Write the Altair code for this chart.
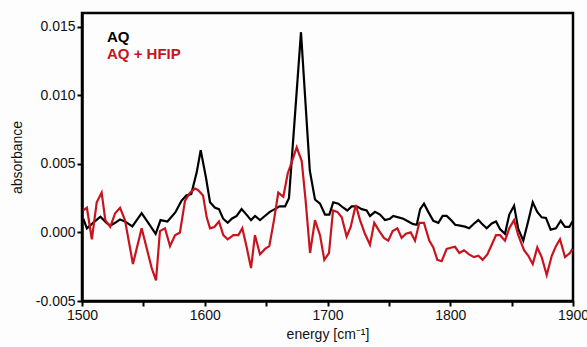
import altair as alt
import pandas as pd

# --- data -------------------------------------------------------------------
aq_wn = [1501, 1504, 1509, 1515, 1520, 1523, 1527, 1531, 1535, 1541, 1548.6, 1554,
         1560, 1564, 1569.6, 1576, 1581, 1585, 1589, 1593.5, 1596.7, 1601, 1604.3,
         1608.4, 1611.6, 1615, 1618.7, 1622, 1626, 1630, 1634, 1637.7, 1641, 1645,
         1649, 1653, 1657, 1661, 1665.4, 1668.6, 1678.4, 1685.6, 1689.8, 1693.9,
         1698, 1701.5, 1704.7, 1708.8, 1712.9, 1716.1, 1719.7, 1723.8, 1727.9,
         1731.9, 1734.6, 1738.7, 1742.8, 1746.8, 1750.9, 1753.6, 1757.7, 1761.8,
         1765.8, 1769.9, 1772.7, 1775.5, 1778.6, 1782.1, 1786.2, 1790.3, 1793.8,
         1797.1, 1801.2, 1804, 1808, 1812, 1815.4, 1818.8, 1822.9, 1826.2, 1829.7,
         1833.8, 1837.3, 1840.5, 1844.6, 1848.1, 1852, 1855.4, 1859.5, 1863.6,
         1867.2, 1870.9, 1874.5, 1878, 1881.8, 1886.1, 1890, 1893.5, 1897, 1899.5]
aq_abs = [0.0010, 0.0003, 0.0007, 0.00115, 0.0007, 0.0005, 0.0007, 0.00095, 0.0008,
          0.00044, 0.0014, 0.0007, -0.0001, 0.0009, 0.0008, 0.00146, 0.0023, 0.0027,
          0.0028, 0.0044, 0.0060, 0.0040, 0.0022, 0.0018, 0.0017, 0.0010, 0.0007,
          0.0010, 0.0012, 0.0017, 0.0013, 0.0009, 0.0012, 0.0009, 0.0012, 0.0015,
          0.0017, 0.0019, 0.0019, 0.0025, 0.0146, 0.0045, 0.0024, 0.0021, 0.0013,
          0.0013, 0.0022, 0.0021, 0.0018, 0.0016, 0.0019, 0.0019, 0.0017, 0.0016,
          0.0012, 0.0015, 0.0013, 0.0009, 0.0010, 0.0012, 0.0011, 0.0010, 0.0008,
          0.0006, 0.00056, 0.0017, 0.0021, 0.0015, 0.00085, 0.0007, 0.0012, 0.0012,
          0.00085, 0.00056, 0.0005, 0.00042, 0.0003, 0.0006, 0.0009, 0.0006, 0.0003,
          0.00066, 0.0008, 0.00025, -0.0001, 0.0013, 0.00195, 0.00025, -0.0006,
          0.00085, 0.0022, 0.0015, 0.0011, 0.00105, 0.0002, 0.0003, 0.00085, 0.0004,
          0.0004, 0.0008]

hfip_wn = [1501, 1504, 1508, 1512, 1516, 1519, 1523, 1527, 1531, 1535, 1541.5,
           1548.6, 1556.8, 1560.3, 1563.5, 1567.6, 1571.7, 1575.8, 1579.8, 1583.9,
           1588, 1592, 1594.5, 1598.6, 1601.6, 1604.3, 1607.8, 1611.6, 1615.1,
           1618.7, 1623.3, 1627.4, 1630.6, 1634.2, 1637.7, 1640.9, 1645, 1649.1,
           1652.6, 1656.4, 1659.9, 1664, 1667.6, 1670.8, 1674.9, 1679, 1682.2,
           1685.8, 1689.8, 1693.9, 1697.4, 1701.2, 1704.5, 1708, 1711.6, 1715.6,
           1718.9, 1723, 1726.5, 1730.5, 1734.6, 1738.1, 1742.2, 1746, 1749.5,
           1753.1, 1756.9, 1760.4, 1763.9, 1767.8, 1771.3, 1774.8, 1778.6, 1782.9,
           1786.2, 1789.5, 1793, 1797.1, 1801.2, 1803.9, 1807.4, 1811.2, 1815.3,
           1819.3, 1822.9, 1826.4, 1830.2, 1833.8, 1837.3, 1840.5, 1844.6, 1848.1,
           1852, 1855.4, 1860.1, 1863.6, 1867.2, 1870.9, 1874.5, 1878.6, 1882.7,
           1886.1, 1889.4, 1893.5, 1897.5, 1899.5]
hfip_abs = [0.0016, 0.0018, -0.0005, 0.0022, 0.0029, 0.0009, 0.0004, 0.0014, 0.0018,
            0.0009, -0.0023, 0.0003, -0.0026, -0.0035, 0.0001, 0.0003, -0.0010,
            -0.0002, 0.0, 0.0023, 0.0029, 0.0032, 0.0031, 0.0027, 0.0011, 0.0003,
            0.0004, 0.0008, -0.0002, -0.0005, -0.0002, -0.0002, 0.0003, -0.0011,
            -0.0026, -0.0002, -0.0016, -0.0012, -0.0010, 0.0009, 0.0029, 0.0026,
            0.0043, 0.0051, 0.0062, 0.0052, 0.0023, -0.0015, 0.0009, -0.0002,
            -0.0020, -0.0015, 0.0016, 0.0015, 0.0011, -0.0003, 0.0004, 0.0020,
            0.0009, -0.0001, -0.0009, 0.0007, 0.0001, -0.0004, -0.0006, 0.0001,
            0.0003, -0.0004, -0.0001, 0.0, -0.0006, 0.0007, 0.0007, -0.0006,
            -0.0011, -0.0020, -0.0021, -0.0012, -0.0011, -0.00105, -0.0015, -0.0013,
            -0.0016, -0.0018, -0.0017, -0.0020, -0.0016, -0.0009, -0.0002, -0.0002,
            -0.0006, 0.0003, 0.0009, -0.0002, -0.0013, -0.0017, -0.0023, -0.0011,
            -0.0018, -0.0031, -0.0017, -0.0010, -0.0005, -0.0018, -0.0015, -0.0012]

series_names = ["AQ", "AQ + HFIP"]
series_colors = ["#000000", "#c8141e"]
x_ticks = [1500, 1550, 1600, 1650, 1700, 1750, 1800, 1850, 1900]
y_ticks = [-0.005, 0.0, 0.005, 0.010, 0.015]

df = pd.concat([
    pd.DataFrame({"wn": aq_wn, "abs": aq_abs, "series": series_names[0]}),
    pd.DataFrame({"wn": hfip_wn, "abs": hfip_abs, "series": series_names[1]}),
])
legend_df = pd.DataFrame({"series": series_names, "row": [0, 1]})

FONT = "Liberation Sans"

x_scale = alt.Scale(domain=[1500, 1900], nice=False, zero=False)
y_scale = alt.Scale(domain=[-0.005, 0.016], nice=False, zero=False)
color_scale = alt.Scale(domain=series_names, range=series_colors)

lines = alt.Chart(df).mark_line(strokeWidth=2.2, clip=True, strokeJoin="miter").encode(
    x=alt.X("wn:Q", scale=x_scale,
            axis=alt.Axis(values=x_ticks, title="energy [cm⁻¹]",
                          labelExpr="datum.value % 100 == 0 ? datum.label : ''",
                          format="d", grid=False, labelFlush=False)),
    y=alt.Y("abs:Q", scale=y_scale,
            axis=alt.Axis(values=y_ticks, title="absorbance", format=".3f",
                          labelExpr="replace(datum.label, '−', '-')", grid=False,
                          labelFlush=False)),
    color=alt.Color("series:N", scale=color_scale, legend=None),
    order="wn:Q",
)

legend = alt.Chart(legend_df).mark_text(
    align="left", baseline="alphabetic", fontWeight="bold", fontSize=15, font=FONT
).encode(
    x=alt.value(25),
    y=alt.Y("row:Q", scale=alt.Scale(domain=[0, 1], range=[29, 46]), axis=None),
    text="series:N",
    color=alt.Color("series:N", scale=color_scale, legend=None),
)

chart = alt.layer(lines, legend).resolve_scale(y="independent").properties(
    width=491, height=288,
    padding={"left": 82, "top": 13, "right": 14, "bottom": 46},
    autosize=alt.AutoSizeParams(type="none"),
    background="#fdfdfd",
).configure_view(
    stroke="#000000", strokeWidth=2.5, fill="#fdfdfd"
).configure_axis(
    domainColor="#000000", domainWidth=2.5, tickColor="#000000", tickWidth=2,
    tickSize=5, labelFont=FONT, labelFontSize=14, labelColor="#111111",
    titleFont=FONT, titleFontSize=14, titleFontWeight="normal", titleColor="#111111",
    labelPadding=2,
).configure_axisX(titlePadding=5).configure_axisY(titlePadding=11)

chart.save("out.html", embed_options={"renderer": "svg", "actions": False})
